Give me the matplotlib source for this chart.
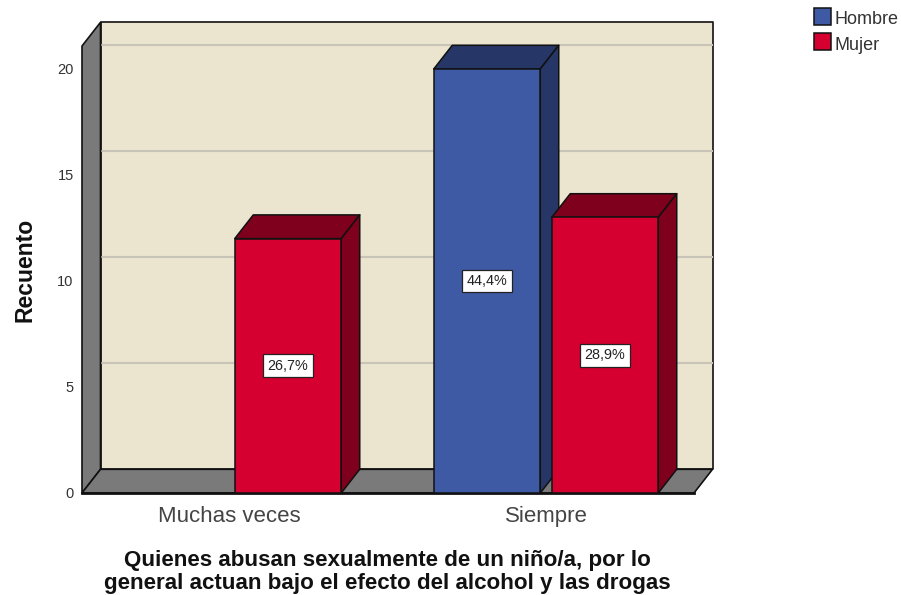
import matplotlib
matplotlib.use("Agg")
import matplotlib.pyplot as plt
from matplotlib.patches import Polygon, Rectangle

categories = ["Muchas veces", "Siempre"]
hombre = [0, 20]
mujer = [12, 13]
hombre_labels = ["", "44,4%"]
mujer_labels = ["26,7%", "28,9%"]
y_ticks = [0, 5, 10, 15, 20]

W, H = 901, 595
L, R, B, T = 82, 694, 493, 46
DX_PX, DY_PX = 18.5, 23.7
PX_PER_CAT = 317.0
PX_PER_VAL = 21.2
BAR_W = 106.5 / PX_PER_CAT
OFFSET = 59.0 / PX_PER_CAT
dx = DX_PX / PX_PER_CAT
dy = DY_PX / PX_PER_VAL

fig = plt.figure(figsize=(W / 100, H / 100), dpi=100, facecolor="white")
ax = fig.add_axes([L / W, (H - B) / H, (R - L) / W, (B - T) / H])
ax.set_xlim((L - 229) / PX_PER_CAT, (R - 229) / PX_PER_CAT)
ax.set_ylim(0, (B - T) / PX_PER_VAL)
ax.patch.set_visible(False)
for s in ax.spines.values():
    s.set_visible(False)

x0, x1 = ax.get_xlim()
y0, y1 = ax.get_ylim()
EDGE = "#111111"
GRAY = "#7a7a7a"
WALL = "#EBE5D0"


def poly(pts, fc, z, ec=EDGE, lw=1.2):
    ax.add_patch(Polygon(pts, closed=True, facecolor=fc, edgecolor=ec, linewidth=lw,
                         clip_on=False, zorder=z, joinstyle="round"))


# back wall, side wall, floor
poly([(x0 + dx, y0 + dy), (x1 + dx, y0 + dy), (x1 + dx, y1 + dy), (x0 + dx, y1 + dy)], WALL, 1)
for v in y_ticks[1:]:
    ax.plot([x0 + dx, x1 + dx], [v + dy, v + dy], color="#C8C5B8", lw=1.5, zorder=2,
            clip_on=False, solid_capstyle="butt")
poly([(x0, y0), (x0 + dx, y0 + dy), (x0 + dx, y1 + dy), (x0, y1)], GRAY, 3)
poly([(x0, y0), (x1, y0), (x1 + dx, y0 + dy), (x0 + dx, y0 + dy)], GRAY, 3)
ax.plot([x0, x1], [y0, y0], color=EDGE, lw=2.0, zorder=3.5, clip_on=False)


def bars(xs, vals, texts, front, dark, z):
    rects = ax.bar(xs, vals, width=BAR_W, color=front, edgecolor=EDGE, linewidth=1.1,
                   zorder=z + 0.2, clip_on=False)
    for xc, v, t, r in zip(xs, vals, texts, rects):
        if v <= 0:
            r.set_visible(False)
            continue
        a, b = xc - BAR_W / 2, xc + BAR_W / 2
        poly([(a, v), (b, v), (b + dx, v + dy), (a + dx, v + dy)], dark, z, lw=1.1)
        poly([(b, 0), (b + dx, dy), (b + dx, v + dy), (b, v)], dark, z, lw=1.1)
        ax.text(xc, v / 2, t, ha="center", va="center", fontsize=10.4,
                family="Liberation Sans", color="#222222", zorder=z + 0.4,
                bbox=dict(boxstyle="square,pad=0.3", fc="white", ec="#222222", lw=0.9))


bars([i - OFFSET for i in range(2)], hombre, hombre_labels, "#3E5AA5", "#263666", 4)
bars([i + OFFSET for i in range(2)], mujer, mujer_labels, "#D5002F", "#7F001C", 5)

ax.set_xticks(range(2), categories)
ax.set_yticks(y_ticks, [str(v) for v in y_ticks])
ax.tick_params(axis="x", length=0, pad=9.5, labelsize=16, labelcolor="#444444")
ax.tick_params(axis="y", length=0, pad=6, labelsize=10.5, labelcolor="#333333")
for lab in ax.get_xticklabels():
    lab.set_family("Liberation Sans")
for lab in ax.get_yticklabels():
    lab.set_family("Liberation Sans")

fig.text(25 / W, 1 - 270 / H, "Recuento", rotation=90, ha="center", va="center",
         fontsize=16.5, fontweight="bold", family="Liberation Sans", color="#111111")
fig.text(387 / W, 1 - 572 / H,
         "Quienes abusan sexualmente de un niño/a, por lo\n"
         "general actuan bajo el efecto del alcohol y las drogas",
         ha="center", va="center", fontsize=16.1, fontweight="bold",
         family="Liberation Sans", color="#111111", linespacing=1.08)

# legend
for y_px, c, name in [(8, "#3E5AA5", "Hombre"), (33, "#D5002F", "Mujer")]:
    fig.add_artist(Rectangle((813.5 / W, 1 - (y_px + 17) / H), 17 / W, 17 / H,
                             transform=fig.transFigure, facecolor=c, edgecolor=EDGE, linewidth=1.1))
    fig.text(835 / W, 1 - (y_px + 12) / H, name, ha="left", va="center", fontsize=13,
             family="Liberation Sans", color="#333333")

fig.savefig("out.png", dpi=100)
